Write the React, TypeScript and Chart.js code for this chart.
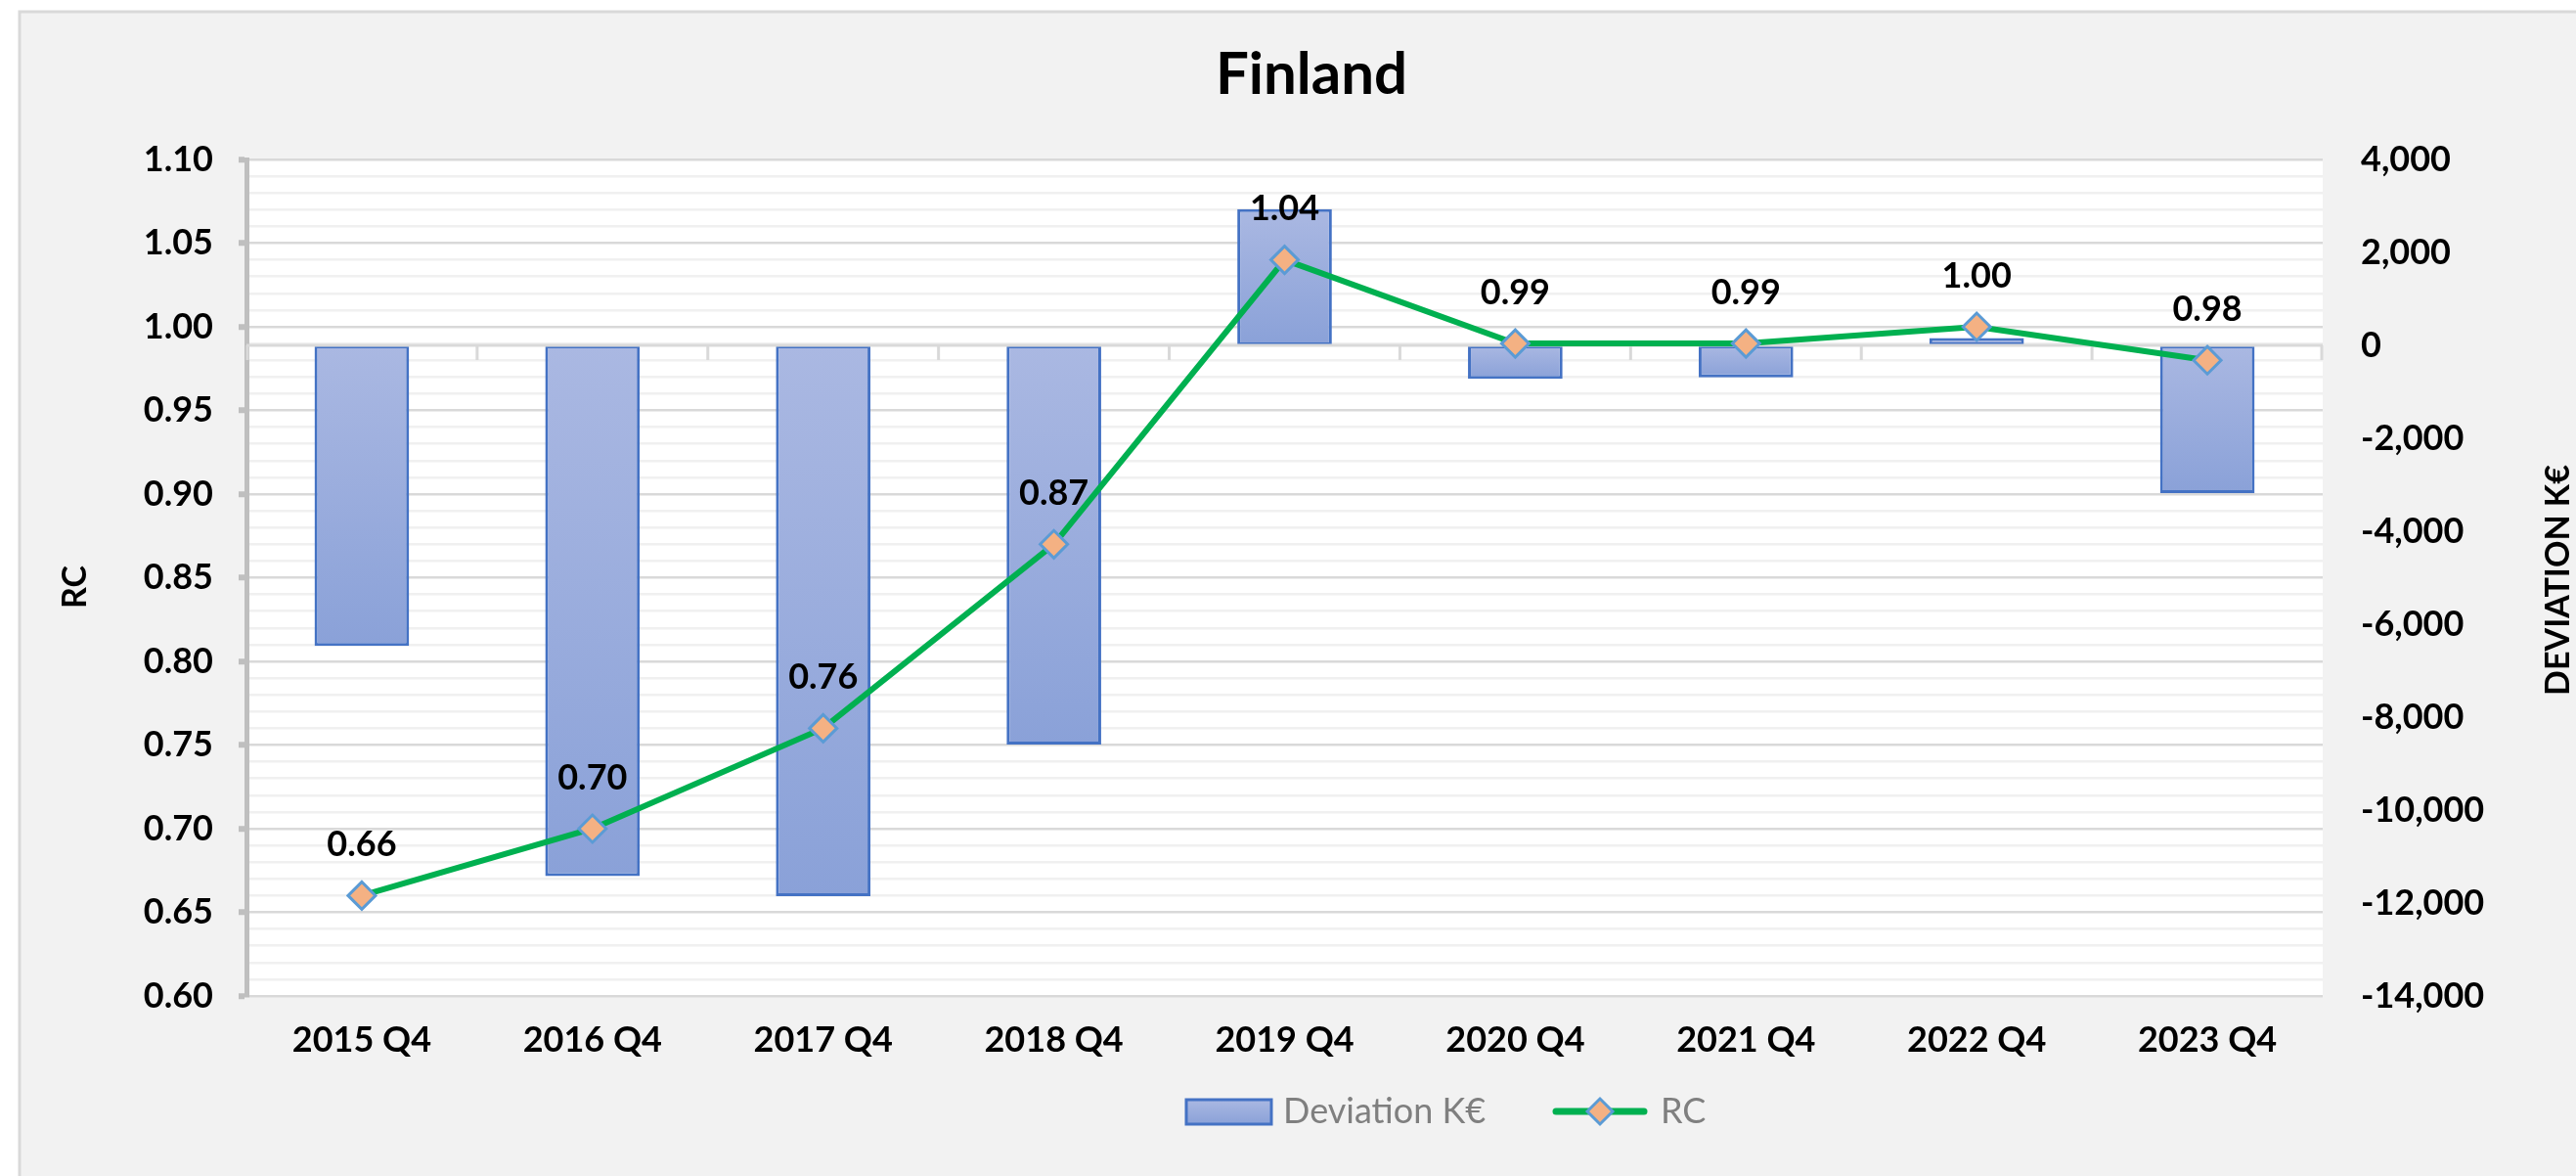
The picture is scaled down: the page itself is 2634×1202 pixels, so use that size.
import React, { useEffect, useRef } from 'react';
import { Chart, registerables } from 'chart.js';

Chart.register(...registerables);

const categories = ['2015 Q4', '2016 Q4', '2017 Q4', '2018 Q4', '2019 Q4', '2020 Q4', '2021 Q4', '2022 Q4', '2023 Q4'];
const deviationValues = [-6470, -11420, -11850, -8590, 2930, -720, -690, 160, -3180];
const rcValues = [0.66, 0.70, 0.76, 0.87, 1.04, 0.99, 0.99, 1.00, 0.98];
const rcTickLabels = [0.60, 0.65, 0.70, 0.75, 0.80, 0.85, 0.90, 0.95, 1.00, 1.05, 1.10];
const deviationTickLabels = [-14000, -12000, -10000, -8000, -6000, -4000, -2000, 0, 2000, 4000];

const FONT = 'Lato, "Open Sans", sans-serif';
const W = 2634;
const H = 1202;

const BAR_TOP = '#aab8e2';
const BAR_BOTTOM = '#8aa1d8';
const BAR_BORDER = '#4472c4';
const LINE_COLOR = '#00b050';
const MARKER_FILL = '#f4b183';
const MARKER_BORDER = '#5b9bd5';

const rcMin = rcTickLabels[0];
const rcMax = rcTickLabels[rcTickLabels.length - 1];
const minorCount = Math.round((rcMax - rcMin) * 100);
const rcGridValues = Array.from({ length: minorCount + 1 }, (_, i) => Math.round((rcMin + i * 0.01) * 100) / 100);
const isMajor = (v: number) => rcTickLabels.some((t) => Math.abs(t - v) < 1e-6);

const decorPlugin = {
  id: 'excelDecor',
  beforeDraw(chart: any) {
    const { ctx, chartArea: a } = chart;
    ctx.save();
    ctx.fillStyle = '#ffffff';
    ctx.fillRect(0, 0, W, H);
    ctx.fillStyle = '#f2f2f2';
    ctx.fillRect(20, 12, W - 20, H - 12);
    ctx.strokeStyle = '#d9d9d9';
    ctx.lineWidth = 3;
    ctx.beginPath();
    ctx.moveTo(20, H);
    ctx.lineTo(20, 12);
    ctx.lineTo(W, 12);
    ctx.stroke();
    ctx.fillStyle = '#ffffff';
    ctx.fillRect(a.left, a.top, a.right - a.left, a.bottom - a.top);

    // title
    ctx.fillStyle = '#000000';
    ctx.font = `bold 60px ${FONT}`;
    ctx.textAlign = 'center';
    ctx.textBaseline = 'middle';
    ctx.fillText('Finland', 1341, 77);

    // axis titles
    ctx.font = `bold 34px ${FONT}`;
    ctx.textBaseline = 'alphabetic';
    ctx.save();
    ctx.translate(88, 600);
    ctx.rotate(-Math.PI / 2);
    ctx.fillText('RC', 0, 0);
    ctx.restore();
    ctx.save();
    ctx.translate(2627, 593);
    ctx.rotate(-Math.PI / 2);
    ctx.fillText('DEVIATION K€', 0, 0);
    ctx.restore();

    // legend
    const ly = 1136;
    const g = ctx.createLinearGradient(0, 1124, 0, 1149);
    g.addColorStop(0, BAR_TOP);
    g.addColorStop(1, BAR_BOTTOM);
    ctx.fillStyle = g;
    ctx.fillRect(1213, 1124, 87, 25);
    ctx.strokeStyle = BAR_BORDER;
    ctx.lineWidth = 3;
    ctx.strokeRect(1213, 1124, 87, 25);
    ctx.fillStyle = '#7f7f7f';
    ctx.font = `36px ${FONT}`;
    ctx.textAlign = 'left';
    ctx.textBaseline = 'middle';
    ctx.fillText('Deviation K€', 1312, ly);
    ctx.strokeStyle = LINE_COLOR;
    ctx.lineWidth = 7;
    ctx.lineCap = 'round';
    ctx.beginPath();
    ctx.moveTo(1591, ly);
    ctx.lineTo(1681, ly);
    ctx.stroke();
    ctx.lineCap = 'butt';
    const r = 13;
    ctx.beginPath();
    ctx.moveTo(1636 - r, ly);
    ctx.lineTo(1636, ly - r);
    ctx.lineTo(1636 + r, ly);
    ctx.lineTo(1636, ly + r);
    ctx.closePath();
    ctx.fillStyle = MARKER_FILL;
    ctx.fill();
    ctx.strokeStyle = MARKER_BORDER;
    ctx.lineWidth = 3;
    ctx.stroke();
    ctx.fillStyle = '#7f7f7f';
    ctx.fillText('RC', 1698, ly);
    ctx.restore();
  },
  afterDatasetDraw(chart: any, args: any) {
    if (args.index !== 0) return;
    const { ctx, chartArea: a, scales } = chart;
    const y0 = Math.round(scales.y1.getPixelForValue(0));
    const x = scales.x;
    ctx.save();
    ctx.strokeStyle = '#d9d9d9';
    ctx.lineWidth = 3;
    ctx.beginPath();
    ctx.moveTo(a.left, y0);
    ctx.lineTo(a.right, y0);
    const n = categories.length;
    for (let i = 0; i <= n; i++) {
      let px: number;
      if (i === 0) px = a.left + 1;
      else if (i === n) px = a.right - 1;
      else px = (x.getPixelForValue(i - 1) + x.getPixelForValue(i)) / 2;
      ctx.moveTo(px, y0);
      ctx.lineTo(px, y0 + 15);
    }
    ctx.stroke();
    ctx.restore();
  },
  afterDatasetsDraw(chart: any) {
    const { ctx } = chart;
    const meta = chart.getDatasetMeta(1);
    ctx.save();
    ctx.fillStyle = '#000000';
    ctx.font = `bold 36px ${FONT}`;
    ctx.textAlign = 'center';
    ctx.textBaseline = 'middle';
    meta.data.forEach((pt: any, i: number) => {
      ctx.fillText(rcValues[i].toFixed(2), pt.x, pt.y - 52);
    });
    ctx.restore();
  },
};

export default function App() {
  const ref = useRef<HTMLCanvasElement | null>(null);

  useEffect(() => {
    document.body.style.margin = '0';
    const canvas = ref.current;
    if (!canvas) return;
    const chart = new Chart(canvas, {
      type: 'bar',
      data: {
        labels: categories,
        datasets: [
          {
            type: 'bar',
            label: 'Deviation K€',
            data: deviationValues,
            yAxisID: 'y1',
            order: 2,
            backgroundColor: (c: any) => {
              const ch = c.chart;
              const s = ch.scales && ch.scales.y1;
              if (!s || c.dataIndex == null) return BAR_TOP;
              const v = deviationValues[c.dataIndex];
              const p0 = s.getPixelForValue(0);
              const p1 = s.getPixelForValue(v);
              const top = Math.min(p0, p1);
              const bot = Math.max(p0, p1);
              if (!isFinite(top) || !isFinite(bot) || bot - top < 1) return BAR_TOP;
              const g = ch.ctx.createLinearGradient(0, top, 0, bot);
              g.addColorStop(0, BAR_TOP);
              g.addColorStop(1, BAR_BOTTOM);
              return g;
            },
            borderColor: BAR_BORDER,
            borderWidth: 3,
            borderSkipped: false,
            categoryPercentage: 1,
            barPercentage: 0.41,
          } as any,
          {
            type: 'line',
            label: 'RC',
            data: rcValues,
            yAxisID: 'y',
            order: 1,
            borderColor: LINE_COLOR,
            borderWidth: 6,
            tension: 0,
            pointStyle: 'rectRot',
            pointRadius: 14,
            pointBackgroundColor: MARKER_FILL,
            pointBorderColor: MARKER_BORDER,
            pointBorderWidth: 3,
          } as any,
        ],
      },
      options: {
        responsive: false,
        animation: false,
        devicePixelRatio: 1,
        layout: { padding: { top: 163, left: 0, right: 0, bottom: 0 } },
        plugins: {
          legend: { display: false },
          title: { display: false },
          tooltip: { enabled: false },
        },
        scales: {
          x: {
            grid: { display: false, drawTicks: false },
            border: { display: false },
            ticks: {
              color: '#000000',
              font: { family: FONT, size: 36, weight: 'bold' },
              padding: 24,
            },
            afterFit: (s: any) => {
              s.height = 184;
            },
          },
          y: {
            type: 'linear',
            position: 'left',
            min: rcMin,
            max: rcMax,
            afterBuildTicks: (s: any) => {
              s.ticks = rcGridValues.map((v) => ({ value: v }));
            },
            afterFit: (s: any) => {
              s.width = 252;
            },
            grid: {
              color: (c: any) => (c.tick && isMajor(c.tick.value) ? '#d9d9d9' : '#f0f0f0'),
              lineWidth: 2.5,
              drawTicks: true,
              tickLength: 8,
              tickWidth: 6,
              tickColor: (c: any) => (c.tick && isMajor(c.tick.value) ? '#bfbfbf' : 'rgba(0,0,0,0)'),
            },
            border: { display: true, color: '#bfbfbf', width: 5 },
            ticks: {
              autoSkip: false,
              color: '#000000',
              font: { family: FONT, size: 36, weight: 'bold' },
              padding: 26,
              callback: (v: any) => (isMajor(Number(v)) ? Number(v).toFixed(2) : ''),
            },
          },
          y1: {
            type: 'linear',
            position: 'right',
            min: deviationTickLabels[0],
            max: deviationTickLabels[deviationTickLabels.length - 1],
            afterBuildTicks: (s: any) => {
              s.ticks = deviationTickLabels.map((v) => ({ value: v }));
            },
            afterFit: (s: any) => {
              s.width = W - 2375;
            },
            grid: { display: false, drawTicks: false },
            border: { display: false },
            ticks: {
              autoSkip: false,
              color: '#000000',
              font: { family: FONT, size: 36, weight: 'bold' },
              padding: 39,
              callback: (v: any) => Number(v).toLocaleString('en-US'),
            },
          },
        },
      } as any,
      plugins: [decorPlugin],
    });
    return () => chart.destroy();
  }, []);

  return <canvas ref={ref} width={W} height={H} style={{ display: 'block' }} />;
}
